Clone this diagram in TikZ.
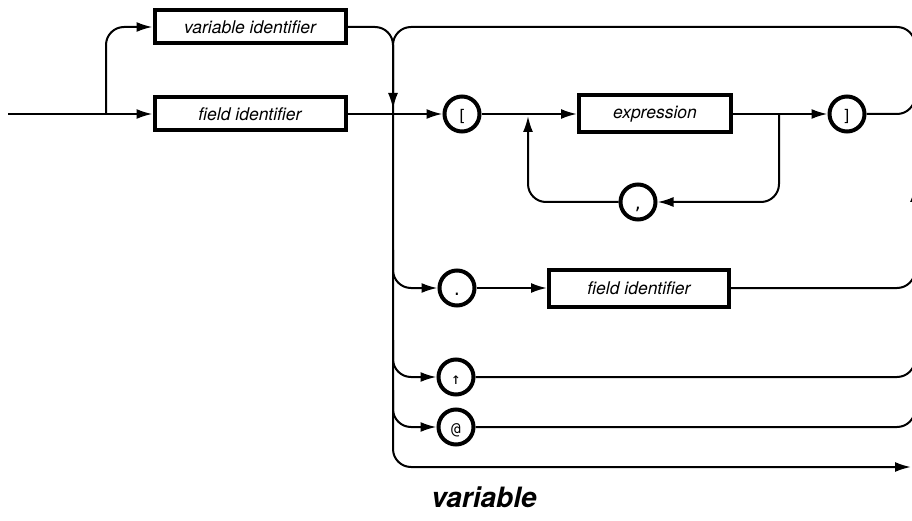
\documentclass[tikz,border=0pt]{standalone}
\usepackage{fontspec}
\setsansfont{TeX Gyre Heros}
\setmonofont{DejaVu Sans Mono}
\usetikzlibrary{arrows.meta}

\begin{document}
\begin{tikzpicture}[x=1pt, y=-1pt,
    line width=2pt,
    >={Latex[length=16pt,width=10pt]},
    nterm/.style={draw, line width=4pt, inner sep=0pt,
        minimum height=33pt,
        font=\sffamily\itshape\fontsize{17.5}{20}\selectfont},
    term/.style={draw, circle, line width=4pt, inner sep=0pt,
        minimum size=35pt, text height=15pt, text depth=0pt,
        font=\ttfamily\fontsize{16}{18}\selectfont},
    rc/.style={rounded corners=18pt}]

                \useasboundingbox (0,0) rectangle (912,521);
                \clip (0,0) rectangle (912,521);

                % Draw boxes
                \node[nterm, minimum width=191pt] (varid) at (250,27) {variable identifier};
                \node[nterm, minimum width=191pt] (fieldid) at (250,114) {field identifier};
                \node[nterm, minimum width=152pt, minimum height=37pt] (expr) at (655,114) {expression};
                \node[nterm, minimum width=180pt, minimum height=37pt] (fieldsel) at (639,288) {field identifier};

                % Draw symbols
                \node[term] (lbrack) at (462,114) {[};
                \node[term] (rbrack) at (847,114) {]};
                \node[term] (comma) at (638,202) {,};
                \node[term] (dot) at (457,288) {.};
                \node[term] (ptr) at (456,377) {↑};
                \node[term] (atsign) at (456,427) {@};

                % Rails
                \coordinate (in) at (8,114);
                \coordinate (split) at (106,114);
                \coordinate (rail) at (393,27);
                \coordinate (railhit) at (393,109);
                \coordinate (out) at (911,467);

                % Entry
                \draw[->] (in) -- (fieldid);
                \draw[->, rc] (split) |- (varid);
                \draw[->, rc] (varid.east) -| (railhit);
                \draw[->] (fieldid) -- (lbrack);

                % Loop back and exit
                \draw[rc] (915,200) |- (rail) -- (393,80);
                \draw[->, rc] (393,80) |- (out);

                % Index list
                \draw[->] (lbrack) -- (expr);
                \draw[->] (expr) -- (rbrack);
                \draw[->, rc] (779,114) |- (comma);
                \draw[->, rc] (comma) -| (528,116);

                % Selectors
                \draw[->, rc] (393,250) |- (dot);
                \draw[->] (dot) -- (fieldsel);
                \draw[->, rc] (393,340) |- (ptr);
                \draw[->, rc] (393,390) |- (atsign);

                % Back to the right rail
                \draw[rc] (rbrack) -| (915,60);
                \draw[rc] (fieldsel) -| (915,200);
                \draw[rc] (ptr) -| (915,300);
                \draw[rc] (atsign) -| (915,380);
                \draw[->] (915,420) -- (915,186);

                % Title
                \node[font=\sffamily\bfseries\itshape\fontsize{28}{30}\selectfont] (title) at (484,497) {variable};

\end{tikzpicture}
\end{document}
